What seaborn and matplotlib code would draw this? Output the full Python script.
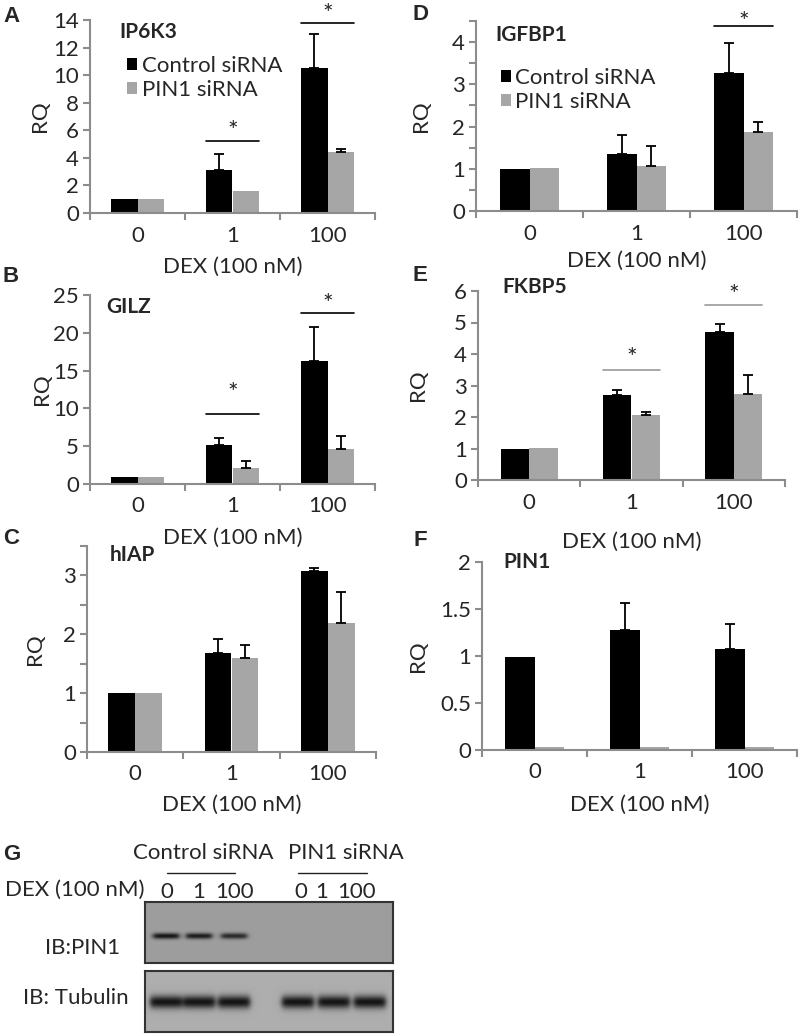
import numpy as np
import pandas as pd
import seaborn as sns
import matplotlib.pyplot as plt
from matplotlib.ticker import MultipleLocator, FixedLocator, NullFormatter, FuncFormatter

W, H = 800, 1035
BLACK = '#000000'
GRAY = '#a6a6a6'
AXIS = '#8c8c8c'
FS = 16

groups = ['Control siRNA', 'PIN1 siRNA']
dex = ['0', '1', '100']

# RQ means and upward error bars
ip6k3_ctrl = [1.0, 3.1, 10.55]
ip6k3_pin1 = [1.0, 1.6, 4.42]
ip6k3_ctrl_err = [0, 1.2, 2.45]
ip6k3_pin1_err = [0, 0, 0.2]

igfbp1_ctrl = [1.0, 1.36, 3.26]
igfbp1_pin1 = [1.01, 1.07, 1.87]
igfbp1_ctrl_err = [0, 0.45, 0.71]
igfbp1_pin1_err = [0, 0.47, 0.23]

gilz_ctrl = [0.95, 5.1, 16.3]
gilz_pin1 = [0.95, 2.1, 4.6]
gilz_ctrl_err = [0, 1.05, 4.5]
gilz_pin1_err = [0, 0.97, 1.72]

fkbp5_ctrl = [1.0, 2.69, 4.69]
fkbp5_pin1 = [1.02, 2.06, 2.72]
fkbp5_ctrl_err = [0, 0.17, 0.26]
fkbp5_pin1_err = [0, 0.09, 0.61]

hiap_ctrl = [1.0, 1.68, 3.07]
hiap_pin1 = [1.01, 1.6, 2.19]
hiap_ctrl_err = [0, 0.24, 0.05]
hiap_pin1_err = [0, 0.22, 0.52]

pin1_ctrl = [0.99, 1.28, 1.07]
pin1_pin1 = [0.03, 0.03, 0.03]
pin1_ctrl_err = [0, 0.28, 0.27]
pin1_pin1_err = [0, 0, 0]

# significance: (group, bar line height, star height)
ip6k3_sig = [(1, 5.2, 6.4), (2, 13.8, 14.85)]
igfbp1_sig = [(2, 4.37, 4.62)]
gilz_sig = [(1, 9.3, 12.8), (2, 22.6, 24.6)]
fkbp5_sig = [(1, 3.5, 4.07), (2, 5.56, 6.06)]

# western blot band strength per lane
blot_lanes = ['0', '1', '100', '0', '1', '100']
pin1_bands = [1.0, 0.95, 0.85, 0, 0, 0]
tubulin_bands = [1.0, 1.0, 1.0, 1.0, 1.0, 1.0]

sns.set_theme(style='white')
plt.rcParams['font.family'] = ['Lato', 'DejaVu Sans']

fig = plt.figure(figsize=(W / 100, H / 100), dpi=100)


def px_axes(l, t, r, b):
    return fig.add_axes([l / W, 1 - b / H, (r - l) / W, (b - t) / H])


def ftext(x, y, s, **kw):
    fig.text(x / W, 1 - y / H, s, **kw)


def bar_panel(rect, title, title_xy, ctrl, pin1, err_c, err_p, ymax, major, minor,
              sig=(), sig_color=BLACK, legend=False, leg_anchor=None, ylab_x=0, xlab_y=0):
    ax = px_axes(*rect)
    df = pd.DataFrame({'dex': dex * 2,
                       'siRNA': [groups[0]] * 3 + [groups[1]] * 3,
                       'rq': ctrl + pin1})
    sns.barplot(data=df, x='dex', y='rq', hue='siRNA', order=dex, hue_order=groups,
                palette=[BLACK, GRAY], width=0.56, gap=0, errorbar=None,
                saturation=1, legend=legend, linewidth=0, ax=ax)
    for cont, errs in zip(ax.containers, [err_c, err_p]):
        for bar, e in zip(cont, errs):
            if e > 0:
                x = bar.get_x() + bar.get_width() / 2
                ax.errorbar(x, bar.get_height(), yerr=[[0], [e]], color=BLACK,
                            capsize=3.5, lw=1.3, capthick=1.3)
    for g, ly, sy in sig:
        b0, b1 = ax.containers[0][g], ax.containers[1][g]
        x0, x1 = b0.get_x(), b1.get_x() + b1.get_width()
        ax.plot([x0, x1], [ly, ly], color=sig_color, lw=1.2, clip_on=False)
        ax.annotate('*', ((x0 + x1) / 2, sy), xytext=(0, -10), textcoords='offset points',
                    ha='center', va='baseline', fontsize=18, annotation_clip=False)

    ax.set_xlim(-0.5, 2.5)
    ax.set_ylim(0, ymax)
    ax.yaxis.set_major_locator(MultipleLocator(major))
    ax.yaxis.set_major_formatter(FuncFormatter(lambda v, p: f'{v:g}'))
    if minor:
        ax.yaxis.set_minor_locator(MultipleLocator(minor))
    ax.xaxis.set_minor_locator(FixedLocator([-0.5, 0.5, 1.5, 2.5]))
    ax.xaxis.set_minor_formatter(NullFormatter())
    ax.tick_params(axis='y', which='both', direction='out', length=5, width=1.5,
                   color=AXIS, labelsize=FS, pad=3, left=True)
    ax.tick_params(axis='x', which='major', length=0, labelsize=FS, pad=9)
    ax.tick_params(axis='x', which='minor', direction='out', length=5, width=1.5,
                   color=AXIS, bottom=True)
    ax.set_xlabel('')
    ax.set_ylabel('')
    for s in ['top', 'right']:
        ax.spines[s].set_visible(False)
    for s in ['left', 'bottom']:
        ax.spines[s].set_color(AXIS)
        ax.spines[s].set_linewidth(1.5)
    ax.set_facecolor('white')

    if legend:
        sns.move_legend(ax, 'upper left', bbox_to_anchor=leg_anchor, frameon=False,
                        title=None, fontsize=FS, handlelength=0.45, handleheight=0.45,
                        handletextpad=0.2, labelspacing=0.2, borderaxespad=0)

    ftext(title_xy[0], title_xy[1], title, fontsize=15, fontweight='bold',
          ha='left', va='center')
    ftext(ylab_x, (rect[1] + rect[3]) / 2, 'RQ', rotation=90, ha='center',
          va='center', fontsize=FS)
    ftext((rect[0] + rect[2]) / 2, xlab_y, 'DEX (100 nM)', ha='center',
          va='center', fontsize=FS)
    return ax


bar_panel((90, 20, 375, 213), 'IP6K3', (119, 32), ip6k3_ctrl, ip6k3_pin1,
          ip6k3_ctrl_err, ip6k3_pin1_err, 14, 2, None, sig=ip6k3_sig,
          legend=True, leg_anchor=(0.1, 0.86), ylab_x=40, xlab_y=267)
bar_panel((476, 21, 797, 211), 'IGFBP1', (495, 35), igfbp1_ctrl, igfbp1_pin1,
          igfbp1_ctrl_err, igfbp1_pin1_err, 4.5, 1, 0.5, sig=igfbp1_sig,
          legend=True, leg_anchor=(0.05, 0.8), ylab_x=421, xlab_y=261)
bar_panel((90, 295, 375, 484), 'GILZ', (106, 307), gilz_ctrl, gilz_pin1,
          gilz_ctrl_err, gilz_pin1_err, 25, 5, None, sig=gilz_sig,
          ylab_x=42, xlab_y=538)
bar_panel((478, 291, 785, 480), 'FKBP5', (502, 287), fkbp5_ctrl, fkbp5_pin1,
          fkbp5_ctrl_err, fkbp5_pin1_err, 6, 1, None, sig=fkbp5_sig,
          sig_color='#999999', ylab_x=418, xlab_y=542)
bar_panel((87, 546, 376, 752), 'hIAP', (110, 555), hiap_ctrl, hiap_pin1,
          hiap_ctrl_err, hiap_pin1_err, 3.5, 1, 0.5, ylab_x=35, xlab_y=805)
bar_panel((482, 562, 797, 750), 'PIN1', (503, 562), pin1_ctrl, pin1_pin1,
          pin1_ctrl_err, pin1_pin1_err, 2, 0.5, None, ylab_x=418, xlab_y=805)

# panel letters
for letter, x, y in [('A', 3, 16), ('B', 3, 277), ('C', 3, 538),
                     ('D', 413, 14), ('E', 413, 275), ('F', 414, 540), ('G', 3, 855)]:
    ftext(x, y, letter, fontsize=16, fontweight='bold', ha='left', va='center',
          family='Liberation Sans')

# western blot (panel G)
lane_x = [166, 199, 234, 298, 334, 370]
box_l, box_r = 145, 393


def blot(top, bottom, bands, half_w, thick, band_y, bg):
    ax = px_axes(box_l, top, box_r, bottom)
    xs = np.linspace(box_l, box_r, 496)
    ys = np.linspace(top, bottom, 122)
    X, Y = np.meshgrid(xs, ys)
    img = np.full(X.shape, bg)
    for cx, v in zip(lane_x, bands):
        hprof = 1 / (1 + np.exp((np.abs(X - cx) - half_w) / 1.5))
        vprof = np.exp(-((Y - band_y) / thick) ** 2)
        img -= v * (bg - 0.08) * hprof * vprof
    ax.imshow(img, cmap='gray', vmin=0, vmax=1, aspect='auto',
              extent=(box_l, box_r, bottom, top))
    ax.set_xticks([])
    ax.set_yticks([])
    for s in ax.spines.values():
        s.set_color('#333333')
        s.set_linewidth(1.5)
    return ax


blot(902, 963, pin1_bands, 13, 3.0, 936, 0.62)
blot(971, 1032, tubulin_bands, 16, 6.5, 1002, 0.68)

ftext(203, 853, 'Control siRNA', ha='center', va='center', fontsize=FS)
ftext(346, 853, 'PIN1 siRNA', ha='center', va='center', fontsize=FS)
fig.add_artist(plt.Line2D([167 / W, 235 / W], [1 - 873 / H] * 2, color='#222222', lw=1))
fig.add_artist(plt.Line2D([298 / W, 367 / W], [1 - 873 / H] * 2, color='#222222', lw=1))
ftext(5, 890, 'DEX (100 nM)', ha='left', va='center', fontsize=FS)
for lab, x in zip(blot_lanes, [167, 199, 235, 301, 322, 357]):
    ftext(x, 892, lab, ha='center', va='center', fontsize=FS)
ftext(83, 948, 'IB:PIN1', ha='center', va='center', fontsize=FS)
ftext(76, 998, 'IB: Tubulin', ha='center', va='center', fontsize=FS)

fig.savefig('out.png', dpi=100, facecolor='white')
